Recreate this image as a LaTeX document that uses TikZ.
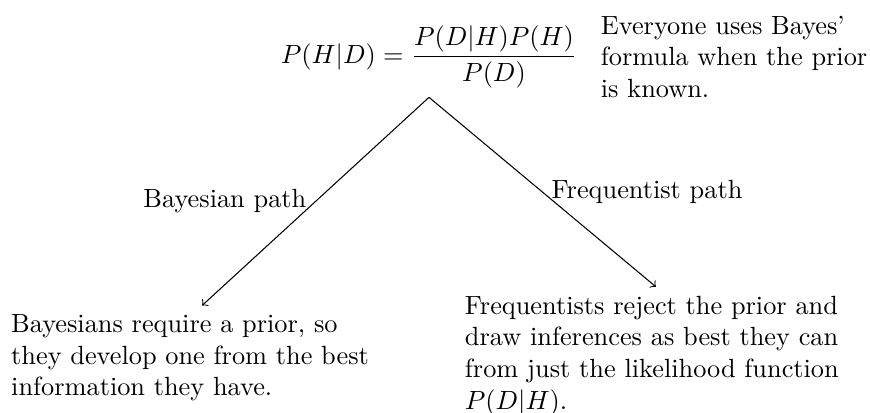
\documentclass[tikz,border=0pt]{standalone}
\usetikzlibrary{positioning}

\begin{document}
\begin{tikzpicture}[x=1cm,y=1cm,
    pathbox/.style={anchor=north,text width=5.1cm,align=left}]
  \useasboundingbox (-5.73,-4.21) rectangle (5.89,1.30);
  \node[anchor=south] (bayes) at (0,0) {$\displaystyle P(H|D) = \frac{P(D|H)P(H)}{P(D)}$};
  \node[right=2pt of bayes,text width=3.7cm,align=left] (note) {Everyone uses Bayes' formula when the prior is known.};
  \node[pathbox] (bayesian) at (-3.03,-2.78) {Bayesians require a prior, so they develop one from the best information they have.};
  \node[pathbox] (frequentist) at (3.03,-2.53) {Frequentists reject the prior and draw inferences as best they can from just the likelihood function $P(D|H)$.};
  \draw[->] (bayes.south) -- node[left] {Bayesian path} (bayesian.north);
  \draw[->] (bayes.south) -- node[right] {Frequentist path} (frequentist.north);
\end{tikzpicture}
\end{document}
